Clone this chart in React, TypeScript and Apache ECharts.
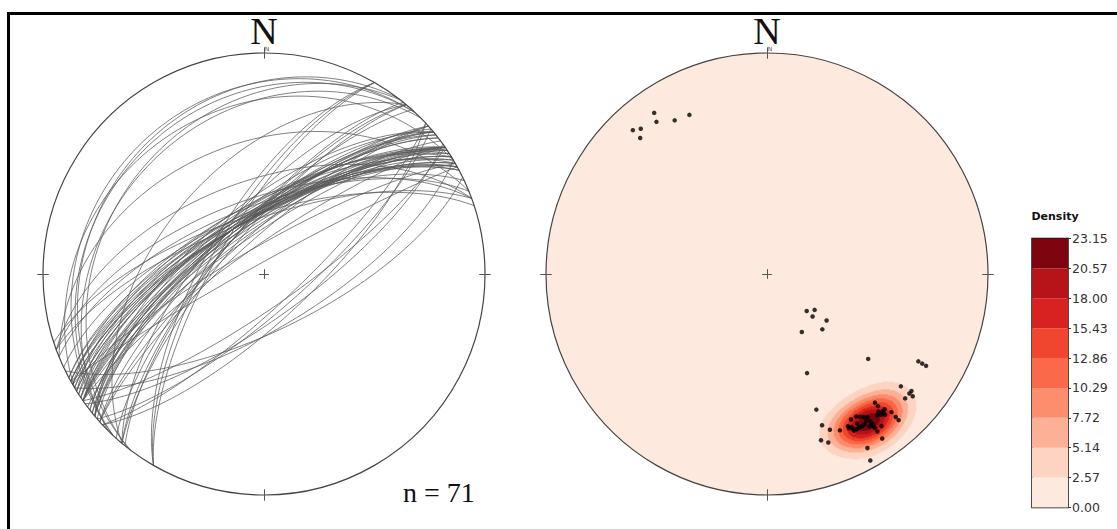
import React, { useEffect, useRef } from "react";
import * as echarts from "echarts";

// Poles to planes (trend / plunge, degrees) read from the right stereonet; n = 71
const POLE_TREND = [
  325, 324, 329, 334, 317, 319, 317,
  133, 127, 133, 128, 149, 135,
  130, 158, 120, 120, 120,
  130, 129, 130, 130, 132,
  140, 140, 140, 140, 141, 142, 138, 138, 138,
  148, 150, 145, 146, 145, 145, 152, 151, 150, 149, 148, 143, 145, 155, 145,
  160, 160, 158, 162, 160, 150, 151,
  150, 148, 147, 145, 145, 151, 147, 141, 140, 142, 152, 146, 145, 146, 149, 139, 151,
];
const POLE_PLUNGE = [
  12, 16, 20, 21, 12, 14, 17,
  70, 68, 67, 62, 65, 61,
  40, 50, 22, 20, 18,
  22, 17, 17, 15, 17,
  25, 23, 20, 18, 19, 20, 17, 14, 12,
  25, 25, 22, 21, 19, 17, 22, 21, 20, 20, 20, 15, 14, 23, 10,
  35, 28, 25, 22, 20, 10, 4,
  20, 20, 20, 20, 18, 20, 24, 21, 19, 20, 23, 23, 16, 18, 22, 20, 22,
];

const DENSITY_LEVELS = [0, 2.57, 5.14, 7.72, 10.29, 12.86, 15.43, 18.0, 20.57, 23.15];
const LEVEL_LABELS = ["0.00", "2.57", "5.14", "7.72", "10.29", "12.86", "15.43", "18.00", "20.57", "23.15"];
const BAND_COLORS = [
  "#fee9df", "#fdd3c1", "#fcb095", "#fc8d6d", "#fa6a4a",
  "#f0462f", "#d7221f", "#b71419", "#7e0510",
];
const NORTH_LABEL = "N";
const COUNT_LABEL = "n = 71";
const COLORBAR_TITLE = "Density";

// layout
const R = 221;
const CY = 274;
const LCX = 264;
const RCX = 767;
const NG = 442; // density grid cells per side (1px each)
const KAPPA = 90; // kernel concentration
const CLUSTER_DEG = 12; // poles contoured: principal set around the density peak

const D2R = Math.PI / 180;

function lineVec(trend: number, plunge: number): number[] {
  const t = trend * D2R, p = plunge * D2R;
  return [Math.cos(p) * Math.sin(t), Math.cos(p) * Math.cos(t), -Math.sin(p)];
}

function project(v: number[]): number[] {
  let [e, n, z] = v;
  if (z > 0) { e = -e; n = -n; z = -z; }
  const k = Math.sqrt(1 / (1 - z));
  return [e * k, n * k];
}

function greatCircle(trend: number, plunge: number): number[][] {
  const dd = (trend + 180) * D2R;
  const dip = (90 - plunge) * D2R;
  const s = [Math.sin(dd - Math.PI / 2), Math.cos(dd - Math.PI / 2), 0];
  const d = [Math.sin(dd) * Math.cos(dip), Math.cos(dd) * Math.cos(dip), -Math.sin(dip)];
  const pts: number[][] = [];
  for (let a = 0; a <= 180; a += 2) {
    const t = a * D2R;
    const c = Math.cos(t), sn = Math.sin(t);
    pts.push(project([c * s[0] + sn * d[0], c * s[1] + sn * d[1], c * s[2] + sn * d[2]]));
  }
  return pts;
}

function gridNodes(): number[][] {
  const nodes: number[][] = [];
  for (let j = 0; j < NG; j++) {
    for (let i = 0; i < NG; i++) {
      const x = -1 + ((i + 0.5) * 2) / NG;
      const y = -1 + ((j + 0.5) * 2) / NG;
      const r2 = x * x + y * y;
      if (r2 > 1) continue;
      const z = r2 - 1;
      const h = Math.sqrt(Math.max(0, 1 - z * z));
      const r = Math.sqrt(r2);
      const e = r > 1e-9 ? (x / r) * h : 0;
      const n = r > 1e-9 ? (y / r) * h : 0;
      nodes.push([i, j, e, n, z]);
    }
  }
  return nodes;
}

function countAt(node: number[], poles: number[][]): number {
  let sum = 0;
  for (const p of poles) {
    const c = Math.abs(node[2] * p[0] + node[3] * p[1] + node[4] * p[2]);
    sum += Math.exp(KAPPA * (c - 1));
  }
  return sum;
}

function densityCells(): number[][] {
  const all = POLE_TREND.map((t, k) => lineVec(t, POLE_PLUNGE[k]));
  const nodes = gridNodes();
  // peak of the density of all poles
  let best = -1, peak = nodes[0];
  for (const nd of nodes) {
    const c = countAt(nd, all);
    if (c > best) { best = c; peak = nd; }
  }
  const cosLim = Math.cos(CLUSTER_DEG * D2R);
  const principal = all.filter(
    (p) => Math.abs(peak[2] * p[0] + peak[3] * p[1] + peak[4] * p[2]) >= cosLim
  );
  const raw: number[][] = [];
  let maxRaw = 0;
  for (const nd of nodes) {
    const c = countAt(nd, principal);
    if (c > maxRaw) maxRaw = c;
    raw.push([nd[0], nd[1], c]);
  }
  const top = DENSITY_LEVELS[DENSITY_LEVELS.length - 1];
  return raw
    .map((c) => [c[0], c[1], (c[2] / maxRaw) * top])
    .filter((c) => c[2] >= DENSITY_LEVELS[1]);
}

function circleSeries(xi: number, fill: string, stroke: string, z: number) {
  return {
    type: "custom",
    xAxisIndex: xi,
    yAxisIndex: xi,
    z,
    silent: true,
    clip: false,
    data: [[0, 0]],
    renderItem: (_p: any, api: any) => {
      const c = api.coord([0, 0]);
      const s = api.size([1, 1]);
      return {
        type: "circle",
        shape: { cx: c[0], cy: c[1], r: s[0] },
        style: { fill, stroke, lineWidth: 1.2 },
      };
    },
  };
}

function tickSeries(xi: number) {
  const a = 0.022, b = 0.026;
  return {
    type: "lines",
    coordinateSystem: "cartesian2d",
    xAxisIndex: xi,
    yAxisIndex: xi,
    z: 6,
    silent: true,
    clip: false,
    polyline: false,
    lineStyle: { color: "#555", width: 1, opacity: 1 },
    data: [
      { coords: [[-a, 0], [a, 0]] },
      { coords: [[0, -a], [0, a]] },
      { coords: [[0, 1 - b], [0, 1 + b]] },
      { coords: [[0, -1 - b], [0, -1 + b]] },
      { coords: [[1 - b, 0], [1 + b, 0]] },
      { coords: [[-1 - b, 0], [-1 + b, 0]] },
    ],
  };
}

function buildOption(): any {
  const idx = Array.from({ length: NG }, (_, i) => i);
  const arcs = POLE_TREND.map((t, k) => ({ coords: greatCircle(t, POLE_PLUNGE[k]) }));
  const poles = POLE_TREND.map((t, k) => project(lineVec(t, POLE_PLUNGE[k])));
  const cells = densityCells();

  const sq = { width: 2 * R, height: 2 * R, top: CY - R };
  const valAxis = (g: number) => ({ type: "value", gridIndex: g, min: -1, max: 1, show: false });

  const pieces = [] as any[];
  for (let k = 1; k < BAND_COLORS.length; k++) {
    const last = k === BAND_COLORS.length - 1;
    pieces.push(
      last
        ? { gte: DENSITY_LEVELS[k], color: BAND_COLORS[k] }
        : { gte: DENSITY_LEVELS[k], lt: DENSITY_LEVELS[k + 1], color: BAND_COLORS[k] }
    );
  }

  const barSeries = BAND_COLORS.map((col) => ({
    type: "bar",
    xAxisIndex: 3,
    yAxisIndex: 3,
    stack: "cb",
    data: [1],
    barWidth: "100%",
    silent: true,
    itemStyle: { color: col, borderWidth: 0 },
  }));

  const serif = "'Liberation Serif', 'Times New Roman', serif";
  const sans = "'DejaVu Sans', sans-serif";

  return {
    animation: false,
    backgroundColor: "#fff",
    grid: [
      { ...sq, left: LCX - R, containLabel: false },
      { ...sq, left: RCX - R, containLabel: false },
      { ...sq, left: RCX - R, containLabel: false },
      {
        left: 1032, top: 238.5, width: 36, height: 269,
        show: true, borderColor: "#111", borderWidth: 1.5, backgroundColor: "transparent",
        containLabel: false,
      },
    ],
    xAxis: [
      valAxis(0),
      { type: "category", gridIndex: 1, data: idx, show: false },
      valAxis(2),
      { type: "category", gridIndex: 3, data: [""], show: false },
    ],
    yAxis: [
      valAxis(0),
      { type: "category", gridIndex: 1, data: idx, show: false },
      valAxis(2),
      {
        type: "value", gridIndex: 3, min: 0, max: 9, interval: 1, position: "right",
        axisLine: { show: false },
        axisTick: { show: true, inside: false, length: 3, lineStyle: { color: "#333", width: 1 } },
        splitLine: { show: false },
        axisLabel: {
          margin: 4, color: "#333", fontSize: 12.5, fontFamily: sans,
          formatter: (v: number) => LEVEL_LABELS[Math.round(v)] ?? "",
        },
      },
    ],
    visualMap: {
      type: "piecewise", show: false, seriesIndex: 1, dimension: 2, pieces,
    },
    series: [
      circleSeries(2, BAND_COLORS[0], "none", 1),
      {
        type: "heatmap", xAxisIndex: 1, yAxisIndex: 1, z: 2, data: cells,
        progressive: 0, silent: true, itemStyle: { borderWidth: 0 },
        emphasis: { disabled: true },
      },
      circleSeries(2, "none", "#444", 5),
      tickSeries(2),
      {
        type: "scatter", xAxisIndex: 2, yAxisIndex: 2, z: 7, data: poles,
        symbolSize: 4.5, itemStyle: { color: "#000" }, silent: true, clip: false,
      },
      circleSeries(0, "none", "#444", 5),
      {
        type: "lines", coordinateSystem: "cartesian2d", xAxisIndex: 0, yAxisIndex: 0,
        polyline: true, z: 3, silent: true, clip: false, data: arcs,
        lineStyle: { color: "#5a5a5a", width: 0.9, opacity: 0.85 },
      },
      tickSeries(0),
      ...barSeries,
    ],
    graphic: [
      { type: "rect", shape: { x: 7, y: 12, width: 1110, height: 3 }, style: { fill: "#000" } },
      { type: "rect", shape: { x: 7, y: 12, width: 3, height: 517 }, style: { fill: "#000" } },
      {
        type: "text", x: LCX, y: 31,
        style: { text: NORTH_LABEL, font: `38px ${serif}`, fill: "#111", align: "center", verticalAlign: "middle" },
      },
      {
        type: "text", x: RCX, y: 31,
        style: { text: NORTH_LABEL, font: `38px ${serif}`, fill: "#111", align: "center", verticalAlign: "middle" },
      },
      {
        type: "text", x: LCX + 3, y: 48,
        style: { text: NORTH_LABEL, font: `6px ${sans}`, fill: "#555", align: "center", verticalAlign: "middle" },
      },
      {
        type: "text", x: RCX + 3, y: 48,
        style: { text: NORTH_LABEL, font: `6px ${sans}`, fill: "#555", align: "center", verticalAlign: "middle" },
      },
      {
        type: "text", x: 403, y: 492,
        style: { text: COUNT_LABEL, font: `28px ${serif}`, fill: "#111", align: "left", verticalAlign: "middle" },
      },
      {
        type: "text", x: 1055, y: 216,
        style: { text: COLORBAR_TITLE, font: `bold 11px ${sans}`, fill: "#111", align: "center", verticalAlign: "middle" },
      },
    ],
  };
}

export default function App() {
  const ref = useRef<HTMLDivElement>(null);
  useEffect(() => {
    if (!ref.current) return;
    const chart = echarts.init(ref.current, undefined, { renderer: "svg" });
    chart.setOption(buildOption());
    return () => chart.dispose();
  }, []);
  return (
    <div
      ref={ref}
      style={{ position: "absolute", left: 0, top: 0, width: 1117, height: 529, background: "#fff" }}
    />
  );
}
